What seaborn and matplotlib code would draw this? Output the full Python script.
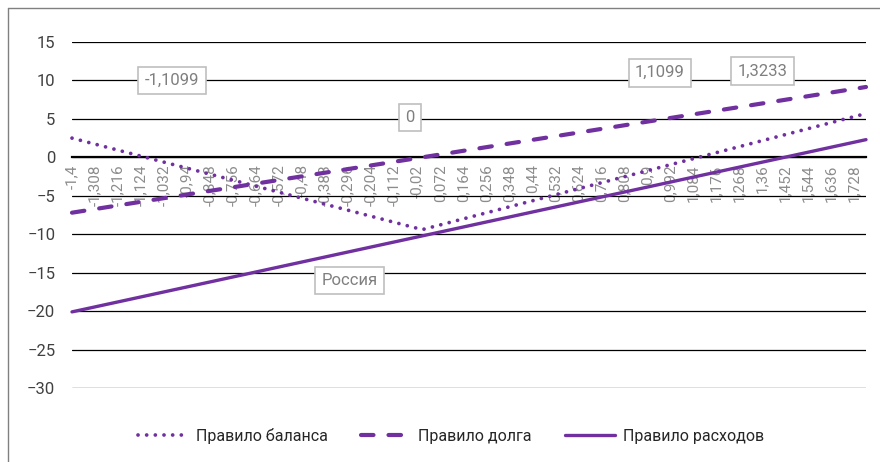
import matplotlib
matplotlib.use("Agg")
import matplotlib.pyplot as plt
import seaborn as sns
import numpy as np
from matplotlib.lines import Line2D

sns.set_style("white")
plt.rcParams['font.family'] = ['Roboto', 'DejaVu Sans']

########################################
# data

balance_x = [-1.4, 0.0, 1.774]
balance_y = [2.5, -9.4, 5.7]

debt_x = [-1.4, 0.0, 1.774]
debt_y = [-7.2, 0.0, 9.15]

spend_x = [-1.4, 1.774]
spend_y = [-20.1, 2.3]

tick_vals = [-1.4, -1.308, -1.216, -1.124, -1.032, -0.94, -0.848, -0.756, -0.664,
             -0.572, -0.48, -0.388, -0.296, -0.204, -0.112, -0.02, 0.072, 0.164,
             0.256, 0.348, 0.44, 0.532, 0.624, 0.716, 0.808, 0.9, 0.992, 1.084,
             1.176, 1.268, 1.36, 1.452, 1.544, 1.636, 1.728]
tick_labels = ["-1,4", "-1,308", "-1,216", "-1,124", "-1,032", "-0,94", "-0,848", "-0,756",
               "-0,664", "-0,572", "-0,48", "-0,388", "-0,296", "-0,204", "-0,112", "-0,02",
               "0,072", "0,164", "0,256", "0,348", "0,44", "0,532", "0,624", "0,716",
               "0,808", "0,9", "0,992", "1,084", "1,176", "1,268", "1,36", "1,452",
               "1,544", "1,636", "1,728"]

note_text = ["-1,1099", "0", "1,1099", "1,3233", "Россия"]
note_x = [-1.0, -0.05, 0.95, 1.36, -0.29]
note_y = [10.0, 5.2, 11.0, 11.2, -16.0]

purple = "#7030A0"

########################################

fig = plt.figure(figsize=(8.8, 4.62), dpi=100)
ax = fig.add_axes([72/880, 1-388/462, (866-72)/880, (388-42)/462])

sns.lineplot(x=balance_x, y=balance_y, ax=ax, color=purple, lw=2.7,
             label="Правило баланса")
sns.lineplot(x=debt_x, y=debt_y, ax=ax, color=purple, lw=3.0,
             label="Правило долга")
sns.lineplot(x=spend_x, y=spend_y, ax=ax, color=purple, lw=2.4,
             label="Правило расходов")

lines = ax.get_lines()
lines[0].set_dashes((0.01, 2.3))
lines[0].set_dash_capstyle("round")
lines[1].set_dashes((3.0, 3.6))
lines[1].set_dash_capstyle("round")
for ln in lines:
    ln.set_clip_on(False)
    ln.set_zorder(5)

ax.set_xlim(-1.4, 1.774)
ax.set_ylim(-30, 15)
ax.set_yticks(np.arange(-30, 16, 5))
ax.yaxis.grid(True, color="black", lw=0.9)
ax.set_axisbelow(True)

for s in ["left", "right", "top"]:
    ax.spines[s].set_visible(False)
ax.spines["bottom"].set_position(("data", 0))
ax.spines["bottom"].set_color("black")
ax.spines["bottom"].set_linewidth(1.6)

ax.set_xticks(tick_vals)
ax.set_xticklabels(tick_labels, rotation=90, va="top", ha="center")
ax.tick_params(axis="x", length=0, pad=5, labelsize=11, labelcolor="#8C8C8C")
ax.tick_params(axis="y", length=0, pad=12, labelsize=12, labelcolor="#404040")

for t, x, y in zip(note_text, note_x, note_y):
    ax.text(x, y, t, ha="center", va="center", fontsize=12, color="#7F7F7F", zorder=6,
            bbox=dict(boxstyle="square,pad=0.38", fc="white", ec="#BFBFBF", lw=1.2))

leg = ax.legend(loc="center left", bbox_to_anchor=(138/880, 1-436/462),
                bbox_transform=fig.transFigure, ncol=3, frameon=False,
                fontsize=11.5, handlelength=3.1, handletextpad=0.5,
                columnspacing=2.1, borderpad=0, borderaxespad=0)
for txt in leg.get_texts():
    txt.set_color("#262626")

# chart frame (only top and left edges visible)
fig.add_artist(Line2D([8/880, 8/880], [0, 1-8/462], color="#808080", lw=1.0))
fig.add_artist(Line2D([8/880, 1], [1-8/462, 1-8/462], color="#808080", lw=1.0))

plt.savefig("out.png", dpi=100)
